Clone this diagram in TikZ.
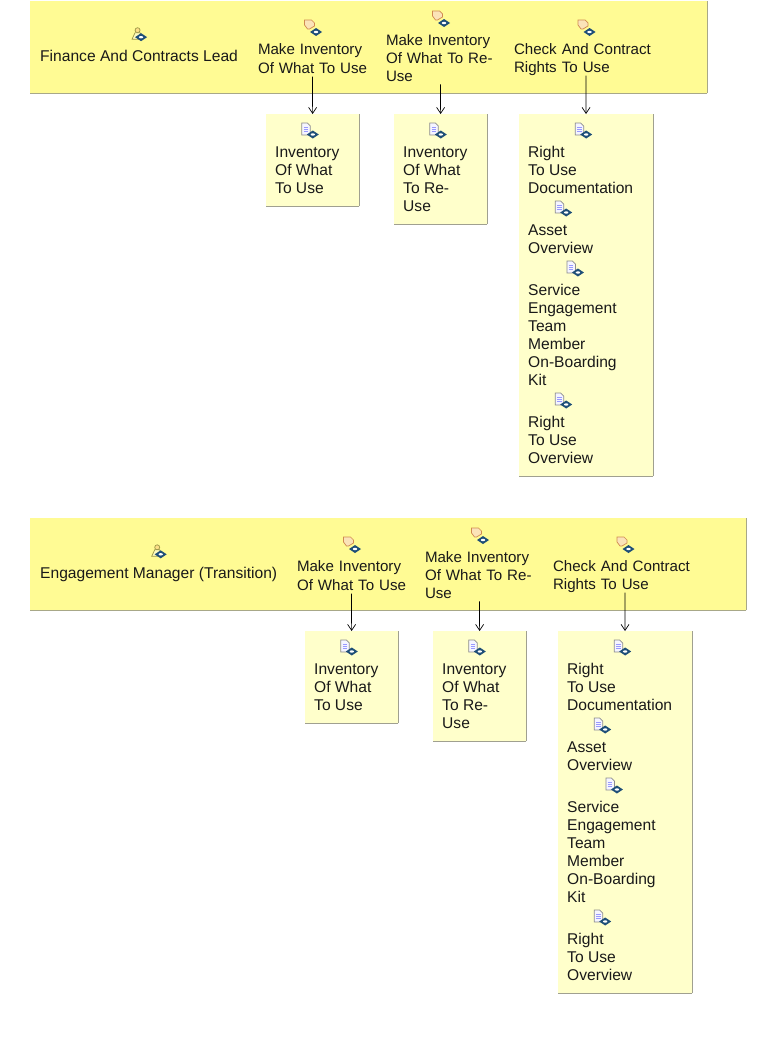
\documentclass[tikz,border=0pt]{standalone}
\usepackage{fontspec}
\setmainfont{Liberation Sans}
\usetikzlibrary{arrows.meta}
\definecolor{lanefill}{HTML}{FFFB94}
\definecolor{boxfill}{HTML}{FFFFCB}
\definecolor{laneedge}{HTML}{A8A888}
\definecolor{boxedge}{HTML}{A0A090}
\definecolor{badgeblue}{HTML}{1F4F78}
\definecolor{taskedge}{HTML}{D08A50}
\definecolor{taskfill}{HTML}{FBE3B8}
\newcommand{\labelstrut}{\rule[-3pt]{0pt}{18pt}}
\tikzset{
    lane/.style = {fill=lanefill, anchor=north west, inner sep=0, minimum height=92,
        append after command={(\tikzlastnode.north east) edge[laneedge] (\tikzlastnode.south east)
            (\tikzlastnode.south east) edge[laneedge] (\tikzlastnode.south west)}},
    artifact/.style = {fill=boxfill, anchor=north west, inner sep=0,
        append after command={(\tikzlastnode.north east) edge[boxedge] (\tikzlastnode.south east)
            (\tikzlastnode.south east) edge[boxedge] (\tikzlastnode.south west)}},
    label/.style = {inner sep=0, align=left, font=\fontsize{15.6}{18}\selectfont, text=black!90,
        execute at begin node=\labelstrut, execute at end node=\labelstrut},
    tasklabel/.style = {label, anchor=north, font=\fontsize{15.1}{18}\selectfont},
    item/.style = {label, anchor=north west, yshift=-3.3},
    flow/.style = {-{Straight Barb[length=6pt,width=8pt]}, black, line width=0.7pt},
    badge/.pic = {
        \fill[badgeblue] (-6,0) -- (0,-4) -- (6,0) -- (0,4) -- cycle;
        \fill[white] (0,0) ellipse (2.2 and 1.2);
    },
    roleicon/.pic = {
        \draw[fill=yellow!50!orange!45, draw=black!45!yellow, line width=0.7pt] (-0.5,-5) circle (2.5);
        \draw[fill=yellow!25!white, draw=black!45!yellow, line width=0.7pt] (-6,4) -- (-3,-2.5) -- (2,-2.5) -- (4,4) -- cycle;
        \pic at (3,2) {badge};
    },
    taskicon/.pic = {
        \draw[fill=taskfill, draw=taskedge, line width=0.7pt] (-7,-9) -- (0,-9) -- (3,-6) -- (3,-3) -- (-2,0) -- (-4,0) -- (-7,-4) -- cycle;
        \pic at (4.5,3) {badge};
    },
    docicon/.pic = {
        \draw[fill=blue!4, draw=black!45, line width=0.7pt] (-5.5,-9) -- (0,-9) -- (3,-6) -- (3,3) -- (-5.5,3) -- cycle;
        \draw[blue!40, line width=0.7pt] (-3.5,-5) -- (1,-5) (-3.5,-3) -- (1,-3) (-3.5,-1) -- (1,-1);
        \pic at (5.5,2.5) {badge};
    },
}
\begin{document}
\begin{tikzpicture}[x=1pt,y=-1pt]
    \useasboundingbox (0,0) rectangle (768,1052);
    % both lanes hold the same steps, only the title is wider in the second
    \foreach \lanename/\lanetitle/\dx/\dy in {fin/{Finance And Contracts Lead}/0/0,
        eng/{Engagement Manager (Transition)}/39/517}{
    \begin{scope}[shift={(\dx,\dy)}, name prefix=\lanename-]
    \node[lane, minimum width={677+\dx}] (band) at ({30-\dx},1) {};
    \node[label, anchor=north west] (title) at ({40-\dx},46) {\lanetitle};
    \pic at ([xshift=-1,yshift=20]title.center) {roleicon};
    % tasks
    \node[tasklabel, text width=109] (task1) at (312.5,39) {\mbox{Make Inventory}\\\mbox{Of What To Use}};
    \node[tasklabel, text width=109] (task2) at (440.5,30) {\mbox{Make Inventory}\\\mbox{Of What To Re-}\\Use};
    \node[tasklabel, text width=144] (task3) at (586,39) {Check And Contract\\Rights To Use};
    \pic at ([xshift=-1,yshift=10]task1.north) {taskicon};
    \pic at ([xshift=-1,yshift=10]task2.north) {taskicon};
    \pic at ([xshift=-1,yshift=10]task3.north) {taskicon};
    % boxes under the tasks
    \node[artifact, minimum width=93, minimum height=92] (box1) at (266,114) {};
    \node[artifact, minimum width=93, minimum height=110] (box2) at (394,114) {};
    \node[artifact, minimum width=134, minimum height=362] (box3) at (519,114) {};
    \node[item] (use1) at (275,143) {Inventory\\Of What\\To Use};
    \pic at ([yshift=14.3]use1.north) {docicon};
    \node[item] (use2) at (403,143) {Inventory\\Of What\\To Re-\\Use};
    \pic at ([yshift=14.3]use2.north) {docicon};
    \node[item] (right1) at (528,143) {Right\\To Use\\Documentation};
    \pic at ([yshift=14.3]right1.north) {docicon};
    \node[item] (right2) at (528,221) {Asset\\Overview};
    \pic at ([yshift=14.3]right2.north) {docicon};
    \node[item] (right3) at (528,281) {Service\\Engagement\\Team\\Member\\On-Boarding\\Kit};
    \pic at ([yshift=14.3]right3.north) {docicon};
    \node[item] (right4) at (528,413) {Right\\To Use\\Overview};
    \pic at ([yshift=14.3]right4.north) {docicon};
    \draw[flow] (task1) -- (box1);
    \draw[flow] (task2) -- (box2);
    \draw[flow] (task3) -- (box3);
    \end{scope}
    }
\end{tikzpicture}
\end{document}
